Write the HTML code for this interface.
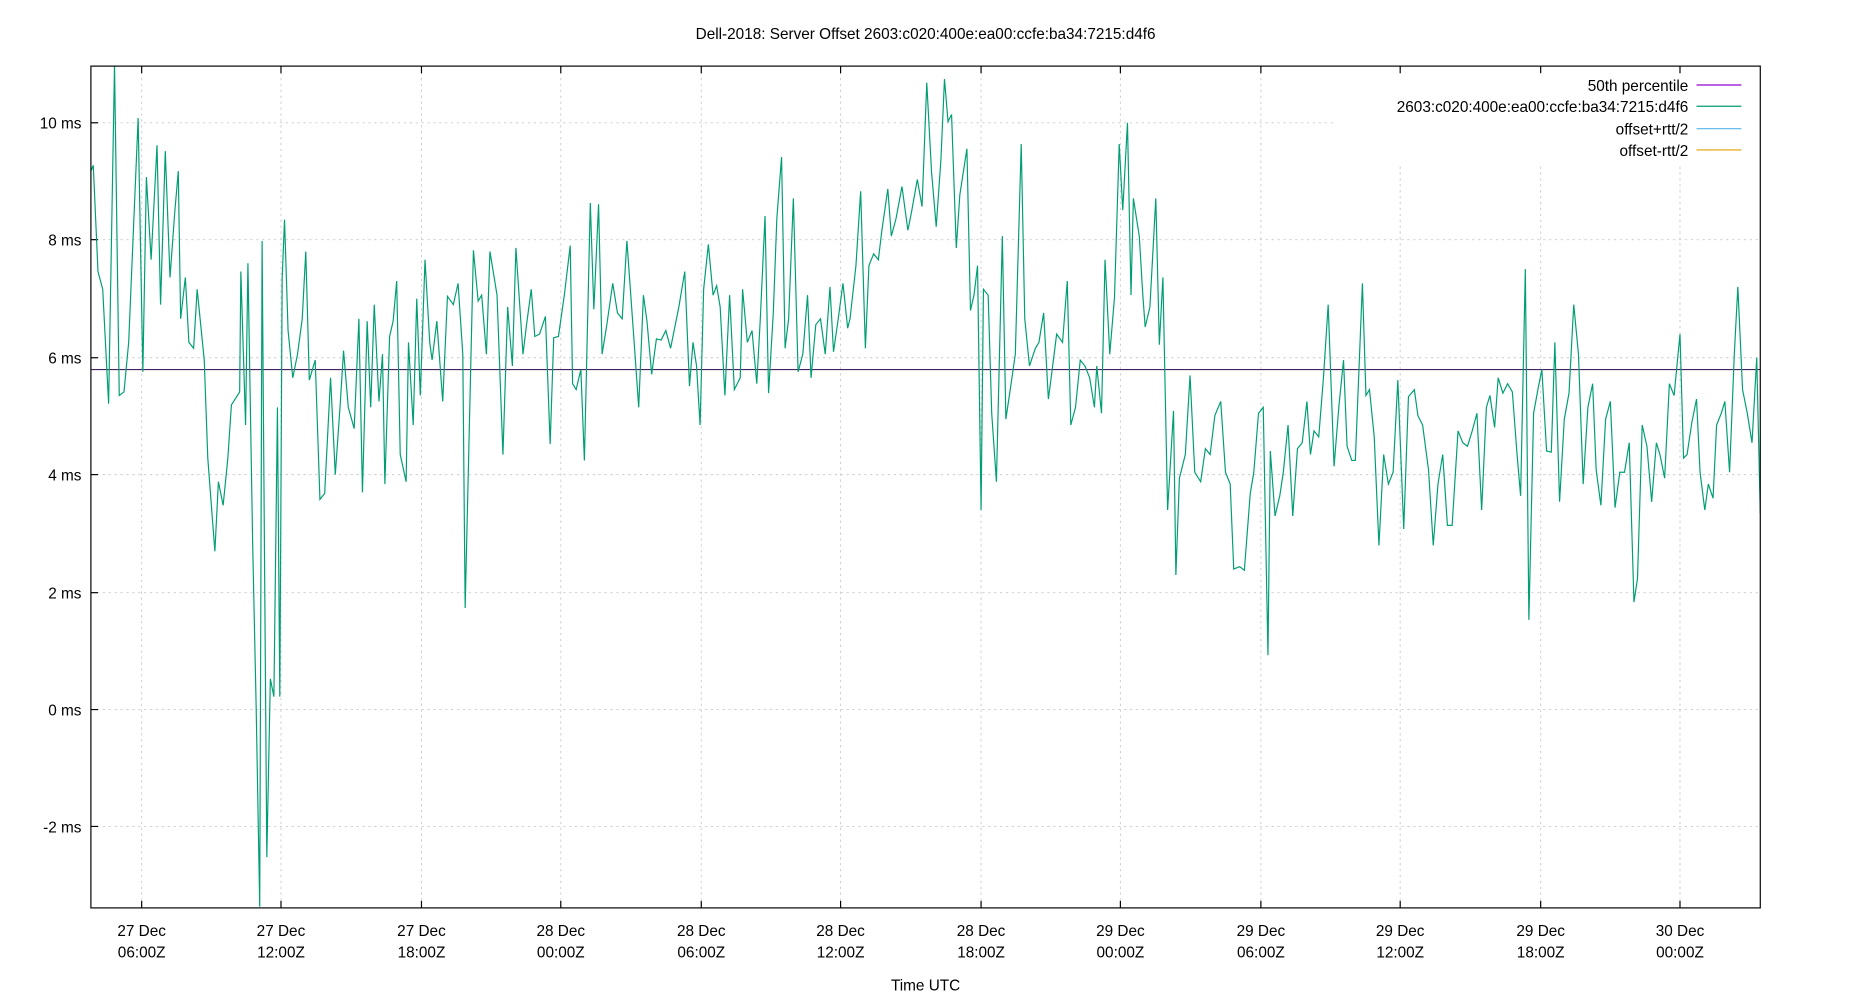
<!DOCTYPE html>
<html><head><meta charset="utf-8"><style>
html,body{margin:0;padding:0;background:#fff;}
svg{display:block;}
text{font-family:"Liberation Sans","DejaVu Sans",sans-serif;font-size:13px;fill:#000;}
</style></head><body>
<svg width="1850" height="1000" viewBox="0 0 1567 847" preserveAspectRatio="none">
<rect width="1567" height="847" fill="#fff"/>
<text x="784" y="33" text-anchor="middle">Dell-2018: Server Offset 2603:c020:400e:ea00:ccfe:ba34:7215:d4f6</text>
<g stroke="#ccc" stroke-width="0.8" stroke-dasharray="2,3">
<line x1="77" x2="1491" y1="700" y2="700"/><line x1="77" x2="1491" y1="601" y2="601"/>
<line x1="77" x2="1491" y1="502" y2="502"/><line x1="77" x2="1491" y1="402" y2="402"/>
<line x1="77" x2="1491" y1="303" y2="303"/><line x1="77" x2="1491" y1="203" y2="203"/>
<line x1="77" x2="1491" y1="104" y2="104"/>
<line x1="120" x2="120" y1="56" y2="769"/><line x1="238" x2="238" y1="56" y2="769"/>
<line x1="357" x2="357" y1="56" y2="769"/><line x1="475" x2="475" y1="56" y2="769"/>
<line x1="594" x2="594" y1="56" y2="769"/><line x1="712" x2="712" y1="56" y2="769"/>
<line x1="831" x2="831" y1="56" y2="769"/><line x1="949" x2="949" y1="56" y2="769"/>
<line x1="1068" x2="1068" y1="56" y2="769"/><line x1="1186" x2="1186" y1="56" y2="769"/>
<line x1="1305" x2="1305" y1="56" y2="769"/><line x1="1423" x2="1423" y1="56" y2="769"/>
</g>
<rect x="1132" y="60" width="357" height="78" fill="#fff"/>
<g stroke="#000" stroke-width="1">
<line x1="77" x2="83" y1="700" y2="700"/><line x1="77" x2="83" y1="601" y2="601"/>
<line x1="77" x2="83" y1="502" y2="502"/><line x1="77" x2="83" y1="402" y2="402"/>
<line x1="77" x2="83" y1="303" y2="303"/><line x1="77" x2="83" y1="203" y2="203"/>
<line x1="77" x2="83" y1="104" y2="104"/>
<path d="M120 769v-6M238 769v-6M357 769v-6M475 769v-6M594 769v-6M712 769v-6M831 769v-6M949 769v-6M1068 769v-6M1186 769v-6M1305 769v-6M1423 769v-6M120 56v6M238 56v6M357 56v6M475 56v6M594 56v6M712 56v6M831 56v6M949 56v6M1068 56v6M1186 56v6M1305 56v6M1423 56v6"/>
</g>
<g text-anchor="end">
<text x="69" y="705">-2 ms</text><text x="69" y="606">0 ms</text><text x="69" y="507">2 ms</text>
<text x="69" y="407">4 ms</text><text x="69" y="308">6 ms</text><text x="69" y="208">8 ms</text><text x="69" y="109">10 ms</text>
</g>
<g text-anchor="middle">
<text x="120" y="793">27 Dec</text><text x="120" y="811">06:00Z</text>
<text x="238" y="793">27 Dec</text><text x="238" y="811">12:00Z</text>
<text x="357" y="793">27 Dec</text><text x="357" y="811">18:00Z</text>
<text x="475" y="793">28 Dec</text><text x="475" y="811">00:00Z</text>
<text x="594" y="793">28 Dec</text><text x="594" y="811">06:00Z</text>
<text x="712" y="793">28 Dec</text><text x="712" y="811">12:00Z</text>
<text x="831" y="793">28 Dec</text><text x="831" y="811">18:00Z</text>
<text x="949" y="793">29 Dec</text><text x="949" y="811">00:00Z</text>
<text x="1068" y="793">29 Dec</text><text x="1068" y="811">06:00Z</text>
<text x="1186" y="793">29 Dec</text><text x="1186" y="811">12:00Z</text>
<text x="1305" y="793">29 Dec</text><text x="1305" y="811">18:00Z</text>
<text x="1423" y="793">30 Dec</text><text x="1423" y="811">00:00Z</text>
<text x="784" y="839">Time UTC</text>
</g>
<line x1="77" x2="1491" y1="313" y2="313" stroke="#4b2060" stroke-width="1"/>
<svg x="77" y="56" width="1414" height="713" viewBox="77 56 1414 713" overflow="hidden">
<polyline fill="none" stroke="#009e73" stroke-width="1" points="77,145 79,140 83,230 87,245 92,342 97,55 101,335 105,332 109,290 117,100 121,315 124,150 128,220 133,123 136,258 140,128 144,235 148,180 151,145 153,270 157,235 160,290 164,295 167,245 173,305 176,388 182,467 185,408 189,428 193,388 196,343 203,332 204,230 208,360 210,223 214,460 217,600 220,768 222,204 226,726 229,575 232,590 235,345 237,590 239,236 241,186 244,280 248,320 252,300 256,270 259,213 262,322 267,305 271,423 275,418 280,320 284,402 288,345 291,297 295,345 300,363 304,270 307,417 311,272 314,345 317,258 321,340 324,300 326,410 330,285 333,272 336,238 339,385 344,408 346,290 350,360 353,253 356,335 360,220 364,290 366,305 370,272 375,340 379,251 384,258 388,240 392,300 394,515 401,212 405,255 408,250 412,300 415,213 421,250 426,385 430,260 434,310 437,210 443,300 446,275 450,245 453,285 457,283 462,268 466,376 469,286 473,285 478,250 483,208 485,325 488,330 492,313 495,390 500,172 503,262 507,173 510,300 514,275 519,240 523,265 527,270 531,204 537,288 541,345 545,250 548,272 552,317 556,287 560,288 564,280 568,295 575,260 580,230 584,327 587,290 590,310 593,360 596,245 600,207 604,250 607,242 610,260 614,335 618,250 622,330 627,320 629,245 633,290 637,280 641,325 644,270 648,183 651,333 655,265 658,185 662,133 665,295 668,270 672,168 676,315 680,300 684,250 687,320 691,275 695,270 699,300 703,243 706,298 710,270 714,240 718,278 720,270 725,225 729,162 733,295 736,225 740,215 744,220 747,195 752,160 755,200 759,185 764,158 769,195 772,180 777,152 781,175 785,70 789,145 793,192 797,135 800,67 803,103 806,97 810,210 813,165 819,126 822,263 825,250 828,225 831,432 833,245 837,250 840,350 844,408 849,200 852,355 856,328 860,300 865,122 868,270 872,310 877,295 880,290 884,265 888,338 891,315 895,283 900,290 904,238 907,360 911,345 915,305 919,310 923,320 927,345 929,310 933,350 936,220 940,300 944,252 948,122 951,178 955,104 958,250 960,168 965,200 968,250 970,277 974,260 979,168 982,292 985,235 989,432 994,348 996,487 999,405 1004,385 1008,318 1012,400 1017,408 1021,380 1025,385 1029,352 1034,340 1038,400 1042,410 1045,482 1050,480 1054,483 1059,418 1062,400 1066,350 1070,345 1074,555 1076,382 1080,437 1084,420 1087,400 1091,360 1095,437 1099,380 1103,375 1107,340 1110,385 1113,365 1117,370 1121,320 1125,258 1130,395 1134,345 1138,305 1141,378 1145,390 1148,390 1154,240 1157,335 1160,330 1164,370 1168,462 1172,385 1176,410 1180,400 1184,322 1189,448 1193,336 1198,330 1201,352 1205,360 1210,398 1214,462 1218,410 1222,385 1226,445 1230,445 1235,365 1239,375 1243,378 1247,365 1251,350 1255,432 1259,345 1262,335 1266,362 1269,320 1273,333 1277,325 1281,332 1285,385 1288,420 1292,228 1295,525 1299,350 1303,328 1306,313 1310,382 1314,383 1317,290 1321,425 1325,355 1329,333 1333,258 1337,300 1341,410 1345,345 1349,325 1352,398 1356,428 1360,355 1364,340 1368,430 1372,400 1376,400 1380,375 1384,510 1387,490 1391,360 1395,378 1399,425 1403,375 1406,385 1410,405 1414,325 1418,335 1423,283 1426,388 1429,385 1433,358 1437,338 1440,400 1444,432 1447,410 1451,422 1454,360 1458,350 1461,340 1465,400 1469,300 1472,243 1476,330 1480,350 1484,375 1488,303 1491,435"/>
</svg>
<rect x="77" y="56" width="1414" height="713" fill="none" stroke="#000" stroke-width="1"/>
<g text-anchor="end">
<text x="1430" y="77">50th percentile</text>
<text x="1430" y="95">2603:c020:400e:ea00:ccfe:ba34:7215:d4f6</text>
<text x="1430" y="114">offset+rtt/2</text>
<text x="1430" y="132">offset-rtt/2</text>
</g>
<line x1="1437" x2="1475" y1="72" y2="72" stroke="#9400d3"/>
<line x1="1437" x2="1475" y1="90" y2="90" stroke="#009e73"/>
<line x1="1437" x2="1475" y1="109" y2="109" stroke="#56b4e9"/>
<line x1="1437" x2="1475" y1="127" y2="127" stroke="#e69f00"/>
</svg>
</body></html>
